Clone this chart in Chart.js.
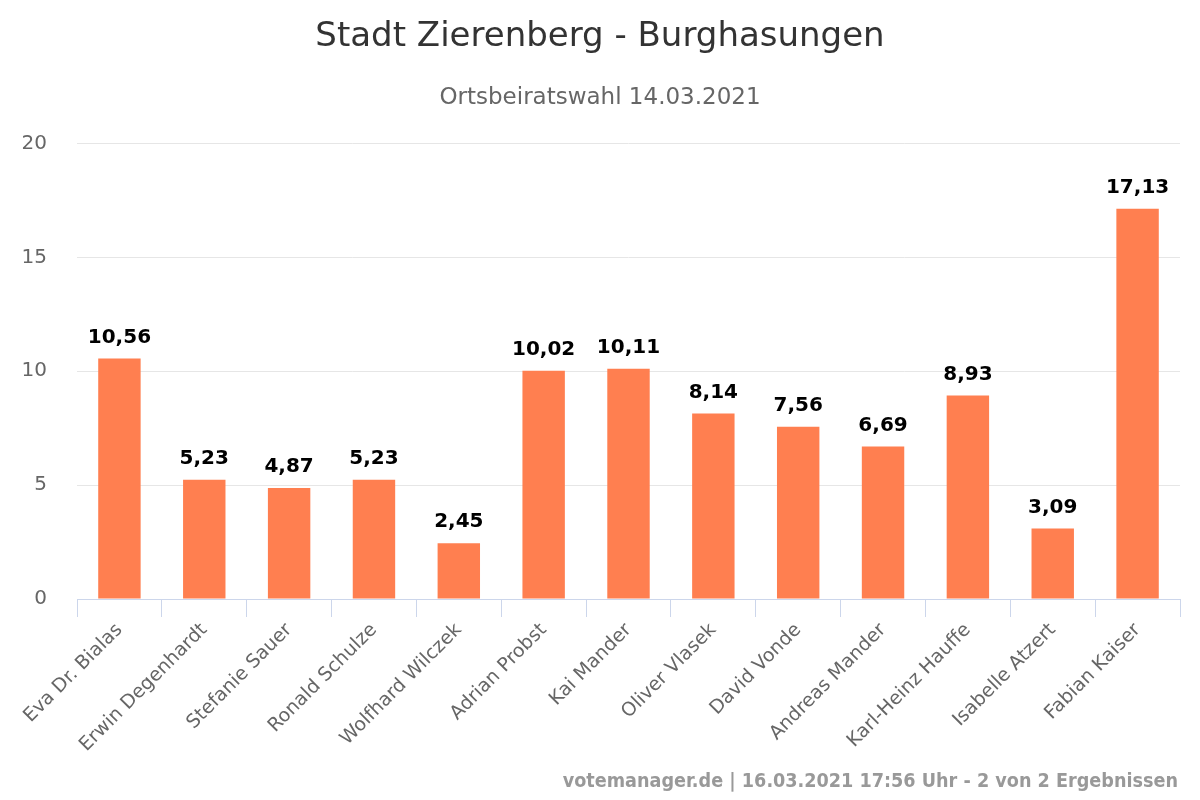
<!DOCTYPE html>
<html>
<head>
<meta charset="utf-8">
<script src="https://cdn.jsdelivr.net/npm/chart.js@4/dist/chart.umd.min.js"></script>
<style>
  body { margin: 0; background: #fff; }
  #wrap { width: 1200px; height: 800px; }
</style>
</head>
<body>
<div id="wrap"><canvas id="myChart"></canvas></div>
<script>
const kandidaten = ["Eva Dr. Bialas", "Erwin Degenhardt", "Stefanie Sauer", "Ronald Schulze", "Wolfhard Wilczek", "Adrian Probst", "Kai Mander", "Oliver Vlasek", "David Vonde", "Andreas Mander", "Karl-Heinz Hauffe", "Isabelle Atzert", "Fabian Kaiser"];
const prozente = [10.56, 5.23, 4.87, 5.23, 2.45, 10.02, 10.11, 8.14, 7.56, 6.69, 8.93, 3.09, 17.13];
const yTicks = [0, 5, 10, 15, 20];
const titel = "Stadt Zierenberg - Burghasungen";
const untertitel = "Ortsbeiratswahl 14.03.2021";
const credits = "votemanager.de | 16.03.2021 17:56 Uhr - 2 von 2 Ergebnissen";

const fontMain = "'DejaVu Sans', Verdana, sans-serif";
const fontCond = "'DejaVu Sans Condensed', 'DejaVu Sans', sans-serif";

// Werte ueber den Balken
const wertLabels = {
    id: 'wertLabels',
    afterDatasetsDraw(chart) {
        const ctx = chart.ctx;
        const meta = chart.getDatasetMeta(0);
        ctx.save();
        ctx.font = "bold 20px " + fontMain;
        ctx.fillStyle = "#000";
        ctx.textAlign = "center";
        ctx.textBaseline = "bottom";
        meta.data.forEach(function (bar, i) {
            ctx.fillText(prozente[i].toFixed(2).replace('.', ','), bar.x, bar.y - 11);
        });
        ctx.restore();
    }
};

// Quelle unten rechts
const creditsPlugin = {
    id: 'creditsPlugin',
    afterDraw(chart) {
        const ctx = chart.ctx;
        ctx.save();
        ctx.font = "bold 19.6px " + fontCond;
        ctx.fillStyle = "#999";
        ctx.textAlign = "right";
        ctx.textBaseline = "middle";
        ctx.fillText(credits, 1178, 782);
        ctx.restore();
    }
};

var ctx = document.getElementById('myChart').getContext('2d');
var myChart = new Chart(ctx, {
    type: 'bar',
    data: {
        labels: kandidaten,
        datasets: [{
            data: prozente,
            backgroundColor: "rgb(255, 127, 80)",
            borderWidth: 0,
            barPercentage: 0.5,
            categoryPercentage: 1.0
        }]
    },
    plugins: [wertLabels, creditsPlugin],
    options: {
        responsive: true,
        maintainAspectRatio: false,
        animation: false,
        layout: {
            padding: { left: 20, right: 20, top: 0, bottom: 0 }
        },
        plugins: {
            legend: { display: false },
            tooltip: { enabled: false },
            title: {
                display: true,
                text: titel,
                color: "#333",
                font: { family: fontMain, size: 34, weight: 'normal' },
                padding: { top: 17, bottom: 26 }
            },
            subtitle: {
                display: true,
                text: untertitel,
                color: "#666",
                font: { family: fontMain, size: 23, weight: 'normal' },
                padding: { top: 0, bottom: 32 }
            }
        },
        scales: {
            x: {
                grid: {
                    offset: true,
                    drawOnChartArea: false,
                    drawTicks: true,
                    tickLength: 18,
                    color: "#ccd6eb"
                },
                border: { color: "#ccd6eb", width: 1 },
                ticks: {
                    color: "#666",
                    font: { family: fontMain, size: 19 },
                    maxRotation: 45,
                    minRotation: 45,
                    padding: 2,
                    autoSkip: false
                },
                afterFit: function (scale) { scale.height = 201; }
            },
            y: {
                min: 0,
                max: 20,
                afterBuildTicks: function (scale) {
                    scale.ticks = yTicks.map(function (v) { return { value: v }; });
                },
                grid: {
                    color: "#e6e6e6",
                    drawTicks: false
                },
                border: { display: false },
                ticks: {
                    color: "#666",
                    font: { family: fontMain, size: 20 },
                    padding: 30
                },
                afterFit: function (scale) { scale.width = 57; }
            }
        }
    }
});
</script>
</body>
</html>
